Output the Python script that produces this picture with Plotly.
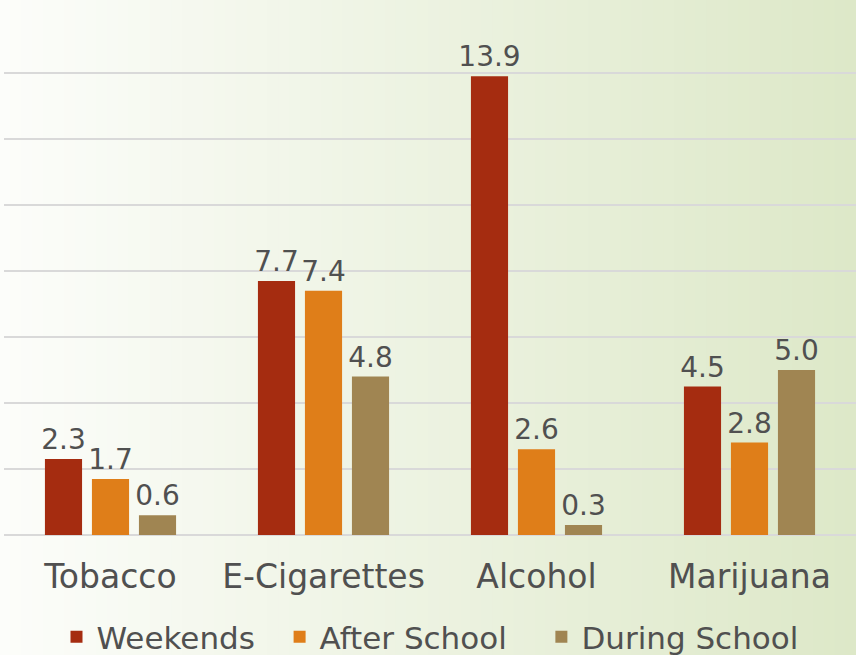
import plotly.graph_objects as go

categories = ["Tobacco", "E-Cigarettes", "Alcohol", "Marijuana"]
series_names = ["Weekends", "After School", "During School"]
weekends = [2.3, 7.7, 13.9, 4.5]
after_school = [1.7, 7.4, 2.6, 2.8]
during_school = [0.6, 4.8, 0.3, 5.0]

colors = ["#A52C10", "#DF7E19", "#A08552"]
legend_pad = ["\u00a0\u00a0", "\u00a0\u00a0\u00a0", ""]

W, H = 856, 655
ML, MR, MT, MB = 4, 0, 7, 120
PW, PH = W - ML - MR, H - MT - MB
FONT = "DejaVu Sans"
TXT = "#505050"

fig = go.Figure()
for name, vals, col, pad in zip(series_names, [weekends, after_school, during_school], colors, legend_pad):
    fig.add_trace(go.Bar(
        x=categories, y=vals, name=name + pad,
        marker=dict(color=col, line=dict(width=0)),
        text=[f"{v:.1f}" for v in vals], textposition="outside",
        textfont=dict(size=28, color=TXT, family=FONT),
        constraintext="none",
        cliponaxis=False,
    ))

# background gradient (left white -> right light green)
shapes = []
N = 80
c0 = (252, 253, 250)
c1 = (221, 232, 200)
x_start = -ML / PW
x_end = 1 + MR / PW
for i in range(N):
    t = i / (N - 1)
    r = round(c0[0] + (c1[0] - c0[0]) * t)
    g = round(c0[1] + (c1[1] - c0[1]) * t)
    b = round(c0[2] + (c1[2] - c0[2]) * t)
    xa = x_start + (x_end - x_start) * i / N
    xb = x_start + (x_end - x_start) * (i + 1) / N + 0.001
    shapes.append(dict(type="rect", xref="paper", yref="paper",
                       x0=xa, x1=xb, y0=-MB / PH, y1=1 + MT / PH,
                       fillcolor=f"rgb({r},{g},{b})", line=dict(width=0),
                       layer="below"))

fig.update_layout(
    width=W, height=H,
    margin=dict(l=ML, r=MR, t=MT, b=MB),
    paper_bgcolor="white", plot_bgcolor="rgba(0,0,0,0)",
    font=dict(family=FONT, color=TXT),
    barmode="group", bargap=0.338, bargroupgap=0.21,
    shapes=shapes,
    showlegend=True,
    legend=dict(orientation="h", x=0.5, xanchor="center",
                yref="container", y=(H - 637) / H, yanchor="middle",
                font=dict(size=31, color=TXT, family=FONT), itemwidth=30,
                bgcolor="rgba(0,0,0,0)", traceorder="normal"),
    xaxis=dict(showgrid=False, showline=False, ticks="", automargin=False,
               tickfont=dict(size=33, color=TXT, family=FONT),
               ticklabelstandoff=19),
    yaxis=dict(range=[0, 16], dtick=2, showgrid=True, gridcolor="#D9D9D9", gridwidth=2,
               showticklabels=False, zeroline=True, zerolinecolor="#D9D9D9", zerolinewidth=2,
               showline=False, automargin=False),
)

fig.write_html("out.html", config={"displayModeBar": False})

with open("out.html", "r", encoding="utf-8") as f:
    html = f.read()
html = html.replace("<head>", "<head><style>html,body{margin:0;padding:0;overflow:hidden;}</style>", 1)
with open("out.html", "w", encoding="utf-8") as f:
    f.write(html)
